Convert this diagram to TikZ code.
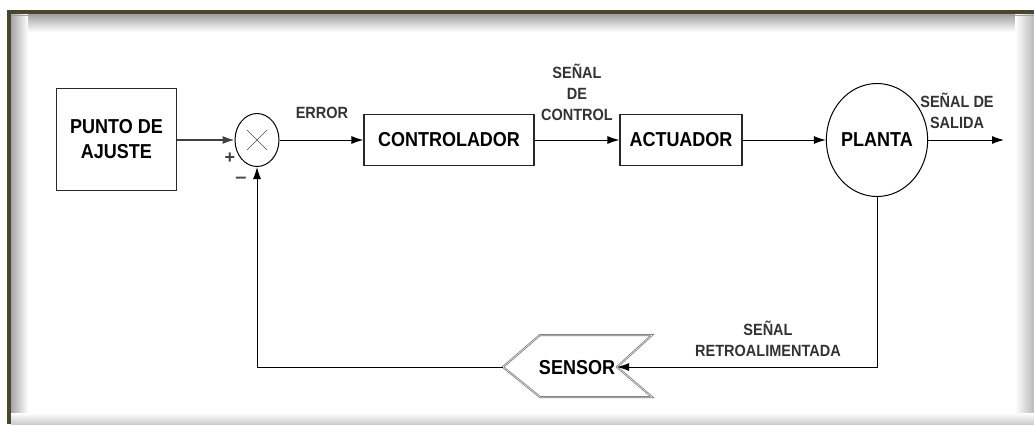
\documentclass[tikz,border=0pt]{standalone}
\usepackage{fontspec}
\setmainfont{Liberation Sans}
\usetikzlibrary{arrows.meta,shapes.geometric,calc}
\definecolor{frameol}{RGB}{74,70,46}
\definecolor{lineg}{RGB}{40,40,40}
\newcommand\vst[1]{\scalebox{1}[1.12]{#1}}
\tikzset{
  blk/.style={draw=lineg,line width=1.1pt,fill=white,inner sep=0pt,font=\fontsize{18}{20}\selectfont\bfseries},
  lbl/.style={font=\fontsize{14.5}{21}\selectfont\bfseries,text=black!80,align=center,inner sep=0pt},
  conn/.style={draw=black,line width=1pt},
  arr/.style={conn,-{Latex[length=12pt,width=8pt]}}
}
\begin{document}
\begin{tikzpicture}[x=1pt,y=-1pt]
\useasboundingbox (0,0) rectangle (1034,424);
% frame
\fill[white] (0,0) rectangle (1034,424);
\fill[frameol] (7,10) rectangle (1034,424);
\fill[white] (11,14) rectangle (1034,424);
\shade[top color=gray!75,bottom color=white] (11,14) rectangle (1034,32);
\shade[left color=gray!70,right color=white] (11,14) rectangle (28,424);
\shade[left color=white,right color=gray!55] (1015,14) rectangle (1034,424);
\shade[top color=white,bottom color=gray!40] (11,413) rectangle (1034,424);
\fill[white] (28,32) rectangle (1015,413);
\draw[frameol!50!white,line width=0.8pt] (11.5,15) -- (1034,15);
% blocks
\node[blk,minimum width=120,minimum height=102,align=center,font=\fontsize{18}{25}\selectfont\bfseries] (sp) at (116.5,139.5) {\vst{PUNTO DE}\\\vst{AJUSTE}};
\node[draw=black,line width=1pt,ellipse,minimum width=44,minimum height=53,inner sep=0pt] (sum) at (257,140) {};
\draw[black!70,line width=0.6pt] ($(sum.center)+(-10,-10)$) -- ($(sum.center)+(10,10)$);
\draw[black!70,line width=0.6pt] ($(sum.center)+(-10,10)$) -- ($(sum.center)+(10,-10)$);
\node[blk,minimum width=170,minimum height=51] (ctrl) at (449,140) {\vst{CONTROLADOR}};
\node[blk,minimum width=122,minimum height=51] (act) at (681,140) {\vst{ACTUADOR}};
\node[draw=black,line width=1pt,ellipse,minimum width=94,minimum height=113,inner sep=0pt,font=\fontsize{18}{20}\selectfont\bfseries] (pl) at (877,140) {\vst{PLANTA}};
% sensor shape
\coordinate (sL) at (503,367);
\coordinate (sN) at (617,367);
\draw[black!55,line width=2pt,line join=miter] (sL) -- (540,335) -- (652,335) -- (sN) -- (652,397) -- (540,397) -- cycle;
\draw[white,line width=0.5pt] (sL) -- (540,335) -- (652,335) -- (sN) -- (652,397) -- (540,397) -- cycle;
\node[font=\fontsize{18}{20}\selectfont\bfseries,inner sep=0pt] (sen) at (577,368) {\vst{SENSOR}};
% connectors
\coordinate (out) at (1004,140);
\coordinate (c1) at (877,367);
\coordinate (c2) at (257,367);
\draw[arr,black!75,line width=1.6pt] (sp.east |- sum.west) -- (sum.west);
\draw[arr] (sum.east) -- (ctrl.west);
\draw[arr] (ctrl.east) -- (act.west);
\draw[arr] (act.east) -- (pl.west);
\draw[arr] (pl.east) -- (out);
\draw[arr] (pl.south) -- (c1) -- (sN);
\draw[arr] (sL) -- (c2) -- (sum.south);
% labels
\node[lbl] at (322,113) {\vst{ERROR}};
\node[lbl] at (577,92) {\vst{SEÑAL}\\\vst{DE}\\\vst{CONTROL}};
\node[lbl] at (957,111) {\vst{SEÑAL DE}\\\vst{SALIDA}};
\node[lbl] at (768,339) {\vst{SEÑAL}\\\vst{RETROALIMENTADA}};
\node[font=\fontsize{18}{20}\selectfont\bfseries,text=black!75] at (230,158) {+};
\node[font=\fontsize{20}{20}\selectfont\bfseries,text=black!70] at (241,180) {–};
\end{tikzpicture}
\end{document}
